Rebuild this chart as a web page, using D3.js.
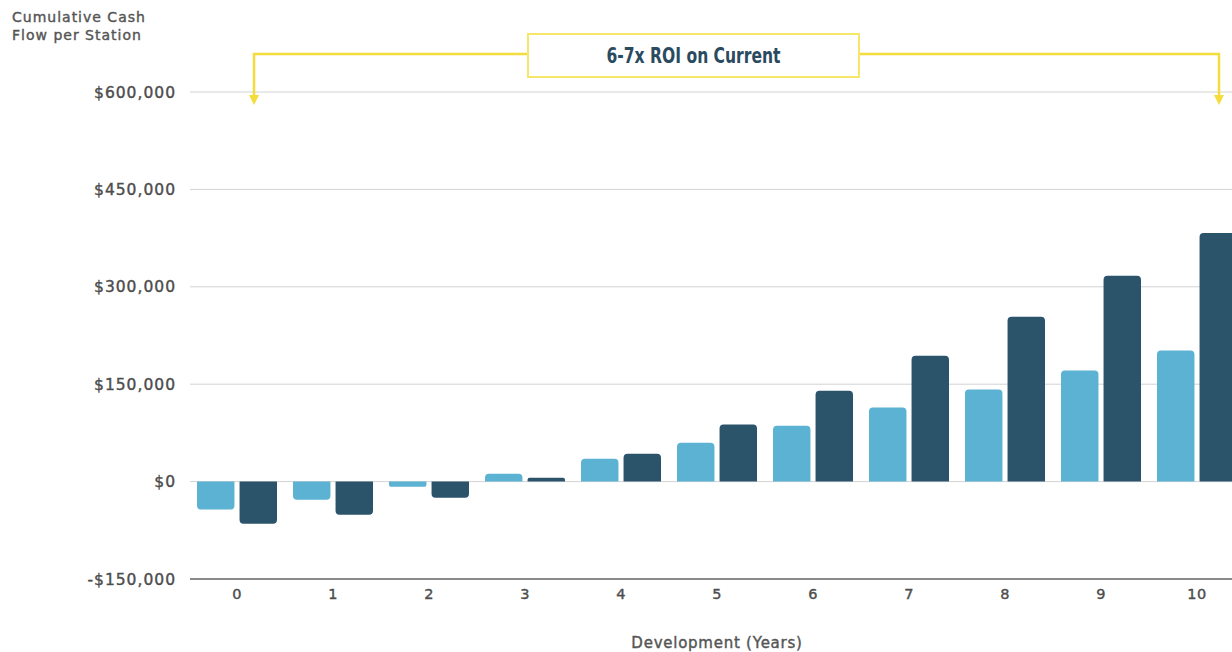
<!DOCTYPE html>
<html>
<head>
<meta charset="utf-8">
<script src="https://cdn.jsdelivr.net/npm/d3@7"></script>
<style>
  html, body { margin: 0; padding: 0; background: #ffffff; }
  svg { display: block; }
  text { font-family: "DejaVu Sans", "Noto Sans", sans-serif; }
  .lbl { stroke-width: 0.4px; paint-order: fill; }
</style>
</head>
<body>
<svg id="chart" width="1232" height="652"></svg>
<script>
// Years of development
const years = [0, 1, 2, 3, 4, 5, 6, 7, 8, 9, 10];
// Cumulative cash flow per station (USD)
const seriesLight = [-43000, -28000, -8000, 12000, 35000, 60000, 86000, 114000, 142000, 171000, 202000];
const seriesDark  = [-65000, -51000, -25000, 6000, 43000, 88000, 140000, 194000, 254000, 317000, 383000];
const yTicks = [-150000, 0, 150000, 300000, 450000, 600000];
const yTitle = ["Cumulative Cash", "Flow per Station"];
const xTitle = "Development (Years)";
const annotationText = "6-7x ROI on Current";

const colors = { light: "#5bb2d3", dark: "#2b546b" };
const textColor = "#4d4d4d";
const svg = d3.select("#chart");

const y = d3.scaleLinear().domain([-150000, 600000]).range([579, 92]);
const x = d3.scaleBand().domain(years).range([189, 189 + 96 * years.length]).padding(0);
const sub = d3.scaleBand().domain(["light", "dark"]).range([8, 88]).paddingInner(0.12).paddingOuter(0);

const money = d3.format(",");
const fmt = v => (v < 0 ? "-$" : "$") + money(Math.abs(v));

// Horizontal gridlines
svg.append("g").selectAll("line")
  .data(yTicks)
  .join("line")
  .attr("x1", 190).attr("x2", 1232)
  .attr("y1", d => y(d)).attr("y2", d => y(d))
  .attr("stroke", d => d === yTicks[0] ? "#8a8a8a" : "#d3d3d3")
  .attr("stroke-width", d => d === yTicks[0] ? 2 : 1);

// Y tick labels
svg.append("g").selectAll("text")
  .data(yTicks)
  .join("text")
  .attr("class", "lbl")
  .attr("x", 176).attr("y", d => y(d))
  .attr("dy", "0.36em")
  .attr("text-anchor", "end")
  .attr("font-size", 15.5)
  .attr("letter-spacing", 1)
  .attr("fill", textColor).attr("stroke", textColor)
  .text(fmt);

// Y title
svg.append("text")
  .attr("class", "lbl")
  .attr("x", 12).attr("y", 22)
  .attr("font-size", 14).attr("letter-spacing", 1)
  .attr("fill", "#555").attr("stroke", "#555")
  .selectAll("tspan").data(yTitle).join("tspan")
  .attr("x", 12).attr("dy", (d, i) => i === 0 ? 0 : 18)
  .text(d => d);

// Bars with rounded far-end corners
function barPath(x0, w, v) {
  const y0 = y(0), y1 = y(v);
  const h = Math.abs(y1 - y0);
  const r = Math.min(4, h / 2, w / 2);
  if (v >= 0) {
    return `M${x0},${y0}V${y1 + r}Q${x0},${y1} ${x0 + r},${y1}H${x0 + w - r}Q${x0 + w},${y1} ${x0 + w},${y1 + r}V${y0}Z`;
  }
  return `M${x0},${y0}V${y1 - r}Q${x0},${y1} ${x0 + r},${y1}H${x0 + w - r}Q${x0 + w},${y1} ${x0 + w},${y1 - r}V${y0}Z`;
}

const rows = years.map((yr, i) => ({ yr, light: seriesLight[i], dark: seriesDark[i] }));
const groups = svg.append("g").selectAll("g")
  .data(rows)
  .join("g")
  .attr("transform", d => `translate(${x(d.yr)},0)`);

groups.selectAll("path")
  .data(d => ["light", "dark"].map(k => ({ k, v: d[k] })))
  .join("path")
  .attr("d", d => barPath(sub(d.k), sub.bandwidth(), d.v))
  .attr("fill", d => colors[d.k]);

// X tick labels
svg.append("g").selectAll("text")
  .data(years)
  .join("text")
  .attr("class", "lbl")
  .attr("x", d => x(d) + x.bandwidth() / 2)
  .attr("y", 599)
  .attr("text-anchor", "middle")
  .attr("font-size", 14.5).attr("letter-spacing", 0.5)
  .attr("fill", textColor).attr("stroke", textColor)
  .text(d => d);

// X title
svg.append("text")
  .attr("class", "lbl")
  .attr("x", 717).attr("y", 648)
  .attr("text-anchor", "middle")
  .attr("font-size", 15).attr("letter-spacing", 0.75)
  .attr("fill", "#555").attr("stroke", "#555")
  .text(xTitle);

// ROI bracket annotation
const yellow = "#f4dc3c";
const ann = svg.append("g");
const bracketY = 54, leftX = 254, rightX = 1219, arrowTip = 105;
const boxL = 528, boxR = 859, boxT = 34, boxB = 77;
ann.append("path")
  .attr("d", `M${leftX},${arrowTip - 8}V${bracketY}H${boxL}M${boxR},${bracketY}H${rightX}V${arrowTip - 8}`)
  .attr("fill", "none").attr("stroke", yellow).attr("stroke-width", 2.5);
[leftX, rightX].forEach(ax => {
  ann.append("path")
    .attr("d", `M${ax - 5},${arrowTip - 10}L${ax + 5},${arrowTip - 10}L${ax},${arrowTip}Z`)
    .attr("fill", yellow);
});
ann.append("rect")
  .attr("x", boxL).attr("y", boxT)
  .attr("width", boxR - boxL).attr("height", boxB - boxT)
  .attr("fill", "#fff").attr("stroke", "#f6e66a").attr("stroke-width", 2);
ann.append("text")
  .attr("x", (boxL + boxR) / 2).attr("y", (boxT + boxB) / 2)
  .attr("dy", "0.36em")
  .attr("text-anchor", "middle")
  .attr("font-family", "Roboto, sans-serif")
  .attr("font-size", 22).attr("font-weight", 700)
  .attr("textLength", 174).attr("lengthAdjust", "spacingAndGlyphs")
  .attr("fill", "#2a4a60")
  .text(annotationText);
</script>
</body>
</html>
